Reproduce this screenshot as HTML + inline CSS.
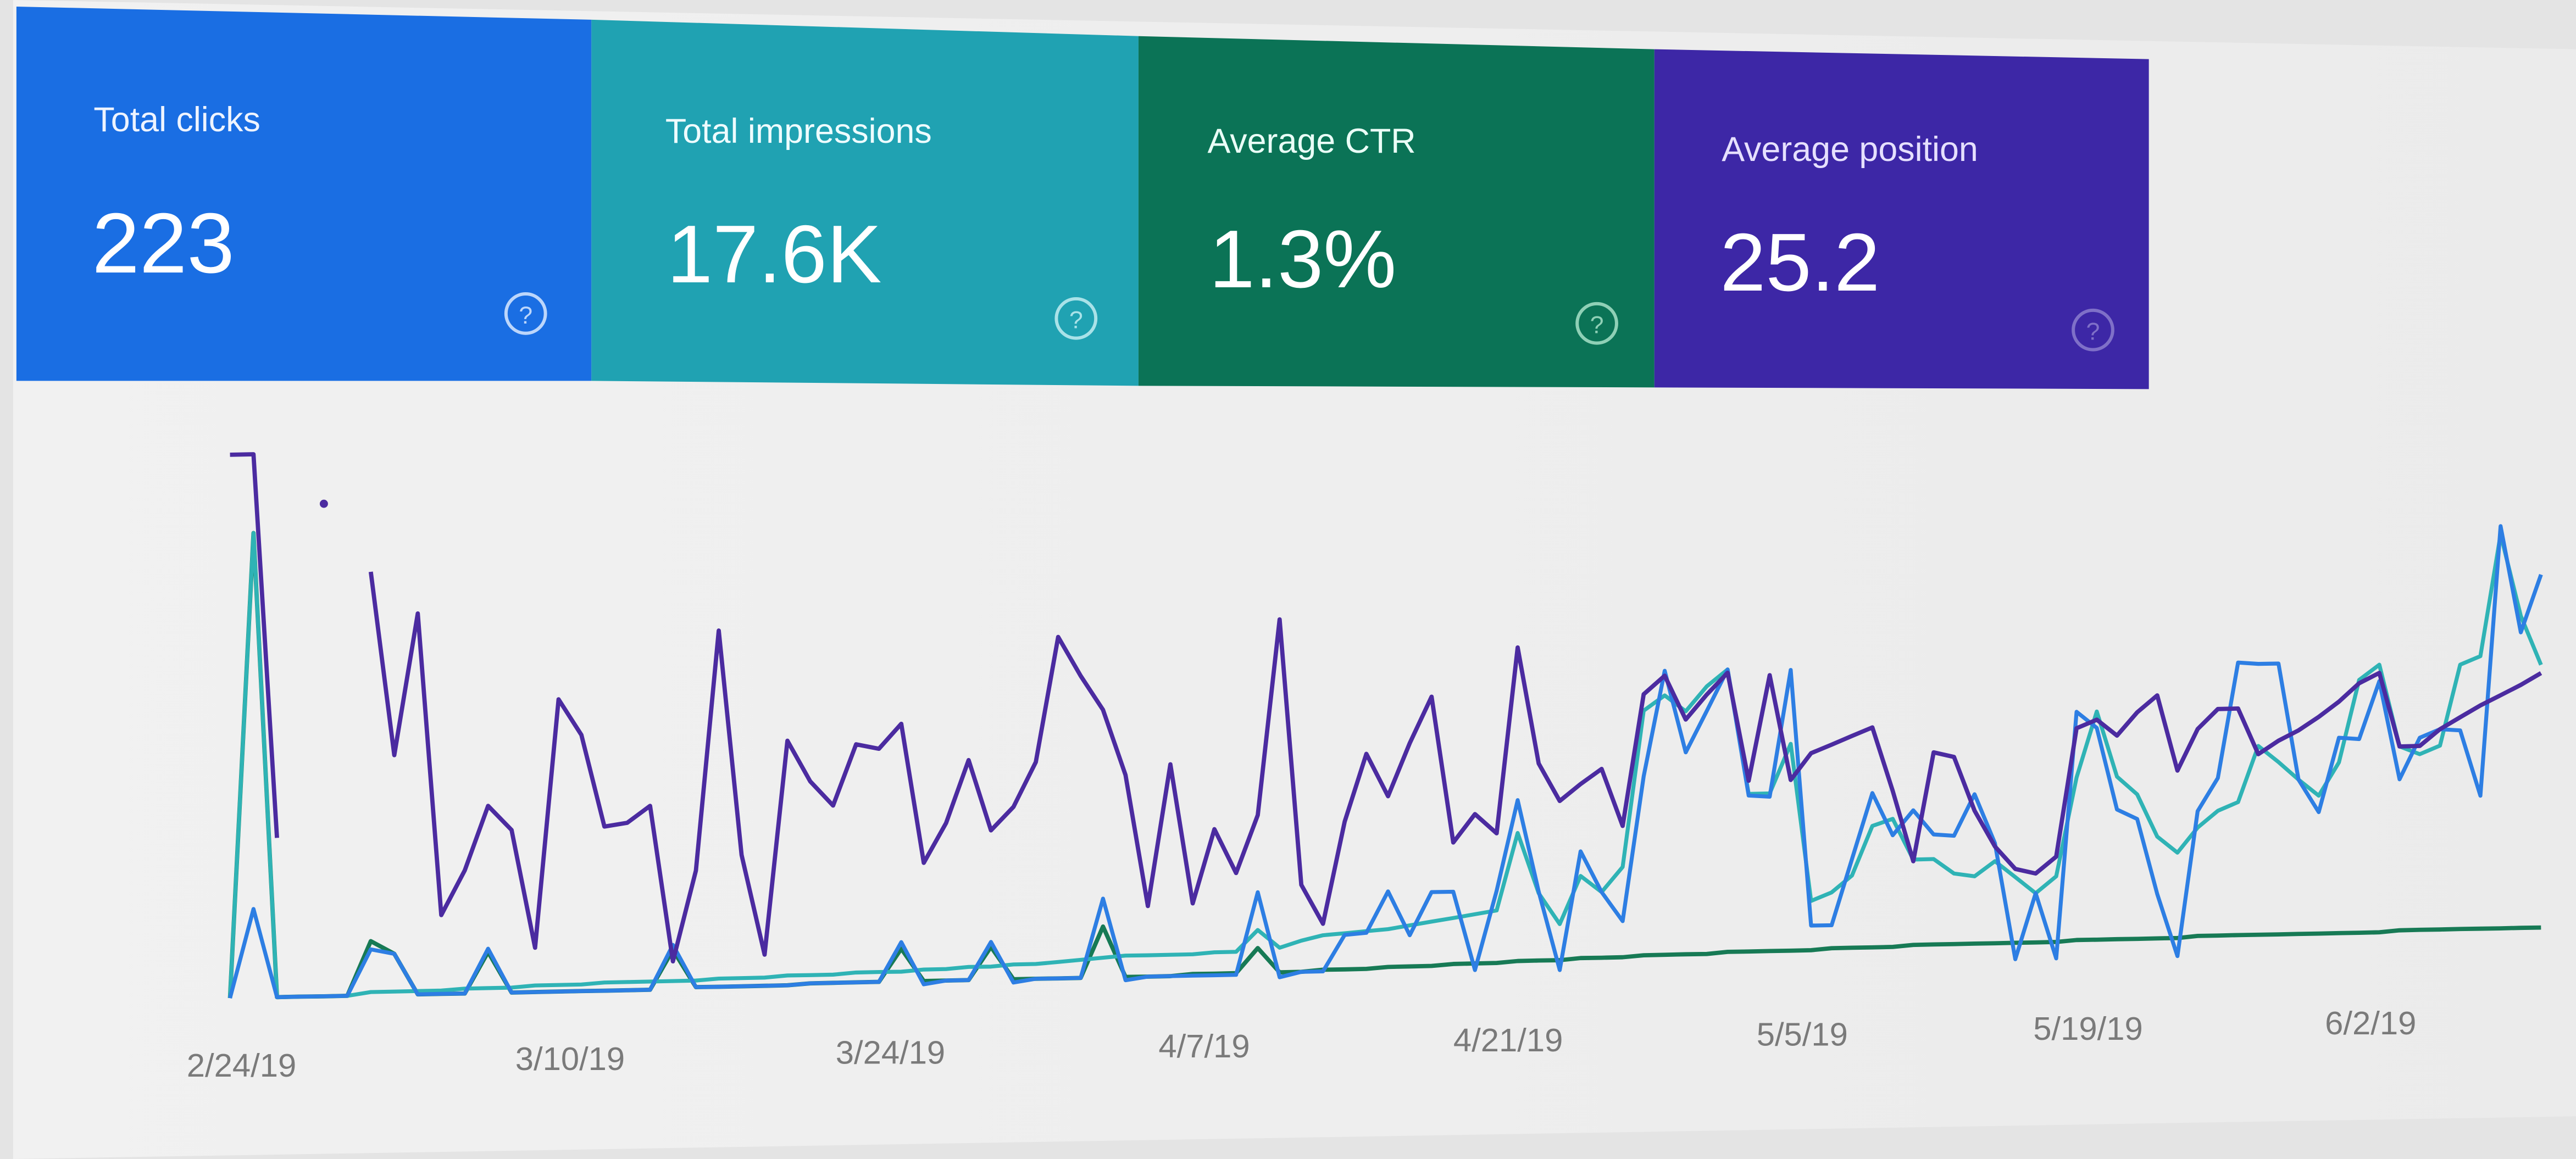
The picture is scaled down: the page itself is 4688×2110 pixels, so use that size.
<!DOCTYPE html>
<html><head><meta charset="utf-8"><style>
html,body{margin:0;padding:0;background:#e6e6e6;}
svg{display:block;}
text{font-family:"Liberation Sans",sans-serif;}
</style></head><body>
<svg id="chart" width="4688" height="2110" viewBox="0 0 1568 706" preserveAspectRatio="none" xmlns="http://www.w3.org/2000/svg">
<defs>
<linearGradient id="bg" x1="0" y1="0" x2="1" y2="0"><stop offset="0" stop-color="#f1f1f1"/><stop offset="1" stop-color="#ebebeb"/></linearGradient>
</defs>
<rect x="0" y="0" width="1568" height="706" fill="#e4e4e4"/>
<polygon points="8,0 1568,30 1568,680 8,706" fill="url(#bg)"/>
<g>
<polygon points="10,4 360,12 360,232 10,232" fill="#1a6ee3"/>
<text x="57" y="80" font-size="21" fill="#eef4ff">Total clicks</text>
<text x="56" y="166" font-size="52" fill="#ffffff">223</text>
<circle cx="320" cy="191" r="12" fill="none" stroke="#bcd6fb" stroke-width="2"/>
<text x="320" y="197" font-size="15" fill="#bcd6fb" text-anchor="middle">?</text>
</g>
<g>
<polygon points="360,12 693,22 693,235 360,232" fill="#20a2b2"/>
<text x="405" y="87" font-size="21" fill="#eefcff">Total impressions</text>
<text x="406" y="172" font-size="50" fill="#ffffff">17.6K</text>
<circle cx="655" cy="194" r="12" fill="none" stroke="#a9e2e8" stroke-width="2"/>
<text x="655" y="200" font-size="15" fill="#a9e2e8" text-anchor="middle">?</text>
</g>
<g>
<polygon points="693,22 1007,30 1007,236 693,235" fill="#0b7356"/>
<text x="735" y="93" font-size="21" fill="#eafff7">Average CTR</text>
<text x="736" y="175" font-size="50" fill="#ffffff">1.3%</text>
<circle cx="972" cy="197" r="12" fill="none" stroke="#8fd0b6" stroke-width="2"/>
<text x="972" y="203" font-size="15" fill="#8fd0b6" text-anchor="middle">?</text>
</g>
<g>
<polygon points="1007,30 1308,36 1308,237 1007,236" fill="#3d27a6"/>
<text x="1048" y="98" font-size="21" fill="#e6e0ff">Average position</text>
<text x="1047" y="177" font-size="50" fill="#ffffff">25.2</text>
<circle cx="1274" cy="201" r="12" fill="none" stroke="#7f70c8" stroke-width="2"/>
<text x="1274" y="207" font-size="15" fill="#7f70c8" text-anchor="middle">?</text>
</g>
<g id="axis"></g>
<g id="lines"></g>
</svg>
<script>
const tickLabels = ["2/24/19","3/10/19","3/24/19","4/7/19","4/21/19","5/5/19","5/19/19","6/2/19"];
const tickDays = [0,14,28,42,56,70,84,98];
const clicks = [0,54,0,0,0,0,28,25,0,0,0,27,0,0,0,0,0,0,0,27,1,1,1,1,1,2,2,2,2,26,0,2,2,25,0,2,2,2,50,0,2,2,2,2,2,52,0,3,3,25,26,51,24,50,50,2,50,105,49,1,73,48,30,118,182,132,157,182,105,104,181,25,25,65,105,79,94,79,78,103,73,2,42,2,152,142,92,86,40,2,90,110,180,179,179,108,88,133,132,167,107,132,137,136,96,260,195,230];
const impressions = [0,283,0,0,0,0,2,2,2,2,3,3,3,4,4,4,5,5,5,5,5,6,6,6,7,7,7,8,8,8,9,9,10,10,11,11,12,13,14,15,15,15,15,16,16,29,18,22,25,26,27,28,30,32,34,36,38,85,48,29,58,48,63,158,167,157,172,182,106,106,136,40,45,55,85,89,64,64,55,53,62,52,42,52,112,152,112,101,75,65,80,90,95,129,119,108,98,118,168,177,127,122,127,176,181,255,205,175];
const ctr = [0,283,0,0,0,0,33,25,0,0,0,25,0,0,0,0,0,0,0,24,1,1,1,1,1,2,2,2,2,22,2,2,2,22,2,2,2,2,33,2,2,2,3,3,3,18,3,3,4,4,4,5,5,5,6,6,6,7,7,7,8,8,8,9,9,9,9,10,10,10,10,10,11,11,11,11,12,12,12,12,12,12,12,12,13,13,13,13,13,13,14,14,14,14,14,14,14,14,14,14,15,15,15,15,15,15,15,15];
const position = [331,331,97,null,300,null,258,146,232,48,75,114,99,27,178,156,100,102,112,17,72,218,81,20,150,125,110,147,144,159,74,98,136,93,107,134,210,186,165,125,45,131,46,91,64,99,218,56,32,94,135,109,141,169,80,97,85,198,127,104,114,123,88,168,179,152,167,180,114,178,114,130,135,140,145,106,63,129,126,93,71,57,54,64,142,147,137,151,161,115,140,152,152,124,132,138,146,155,166,172,127,127,137,144,151,157,163,170];

const ns="http://www.w3.org/2000/svg";
const anchorX=[140,340,535,726,911,1090,1264,1436];
function xScale(d){
  for(let i=0;i<tickDays.length-1;i++){
    if(d<=tickDays[i+1]){const t=(d-tickDays[i])/(tickDays[i+1]-tickDays[i]);return anchorX[i]+t*(anchorX[i+1]-anchorX[i]);}
  }
  const n=tickDays.length-1;return anchorX[n]+(d-tickDays[n])*12.3;
}
function baseY(x){return 608-28*(x-140)/1405;}
function yScale(v,x){return baseY(x)-v;}

const axis=document.getElementById('axis');
tickLabels.forEach((lab,i)=>{
  const x=xScale(tickDays[i])+7;
  const t=document.createElementNS(ns,'text');
  
  
  t.setAttribute('x',x);t.setAttribute('y',baseY(x)+48);
  t.setAttribute('font-size','20');t.setAttribute('fill','#7a7a7a');t.setAttribute('text-anchor','middle');
  t.textContent=lab;axis.appendChild(t);
});

const lines=document.getElementById('lines');
function drawSeries(vals,color,name,w){
  const g=document.createElementNS(ns,'g');
  
  
  let segs=[],cur=[];
  vals.forEach((v,d)=>{
    if(v===null){if(cur.length)segs.push(cur);cur=[];return;}
    const x=xScale(d);cur.push([x,yScale(v,x)]);
  });
  if(cur.length)segs.push(cur);
  segs.forEach(s=>{
    if(s.length===1){
      const c=document.createElementNS(ns,'circle');
      
      
      c.setAttribute('cx',s[0][0]);c.setAttribute('cy',s[0][1]);c.setAttribute('r',2.5);c.setAttribute('fill',color);g.appendChild(c);
    } else {
      const p=document.createElementNS(ns,'polyline');
      
      
      p.setAttribute('points',s.map(q=>q[0].toFixed(1)+','+q[1].toFixed(1)).join(' '));
      p.setAttribute('fill','none');p.setAttribute('stroke',color);p.setAttribute('stroke-width',w);p.setAttribute('stroke-linejoin','round');
      g.appendChild(p);
    }
  });
  lines.appendChild(g);
}
drawSeries(ctr,'#177a55','ctr-series',2.6);
drawSeries(impressions,'#2fb3b5','impressions-series',2.4);
drawSeries(clicks,'#2d7ee3','clicks-series',2.4);
drawSeries(position,'#4b2ba0','position-series',2.6);
</script>
</body></html>
